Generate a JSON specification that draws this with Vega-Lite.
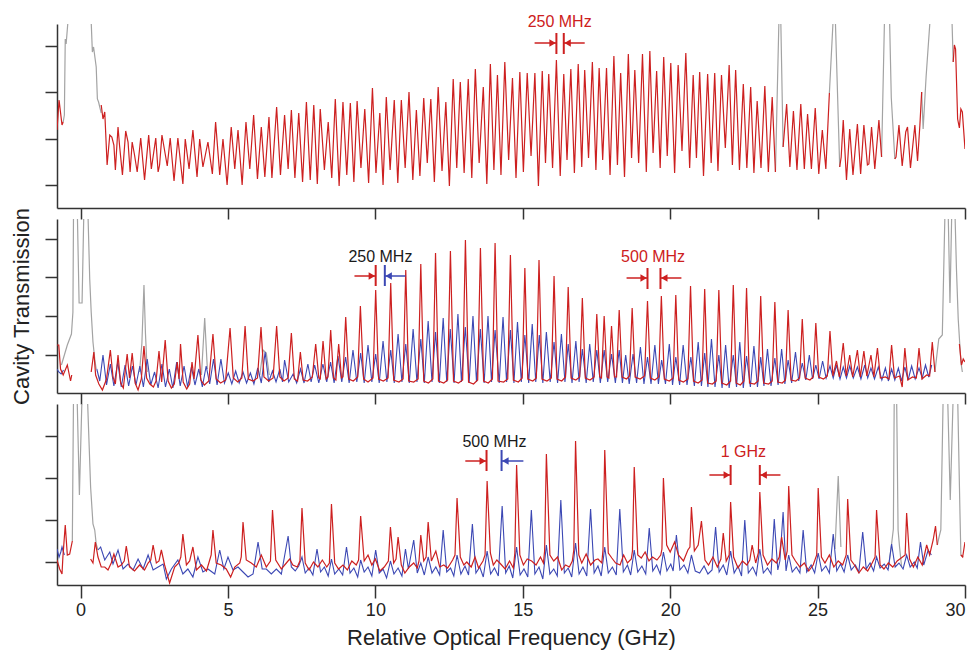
{
"$schema":"https://vega.github.io/schema/vega-lite/v6.json",
"padding":{"left":10,"top":13,"right":8,"bottom":5},
"spacing":11,
"bounds":"flush",
"config":{"view":{"stroke":null},"font":"Liberation Sans","axis":{"grid":false,"domainColor":"#333","tickColor":"#333","domainWidth":1.5,"tickWidth":1.5,"labelFont":"Liberation Sans","titleFont":"Liberation Sans","labelColor":"#222","titleColor":"#222","titleFontWeight":"normal"}},
"datasets":{
"tg":[{"x":-0.59,"y":86,"s":1},{"x":-0.55,"y":93,"s":1},{"x":-0.52,"y":169,"s":1},{"x":-0.49,"y":164,"s":1},{"x":-0.43,"y":186,"s":1},{"x":0.36,"y":186,"s":1},{"x":0.4,"y":156,"s":1},{"x":0.44,"y":161,"s":1},{"x":0.53,"y":141,"s":1},{"x":0.57,"y":109,"s":1},{"x":0.61,"y":106,"s":1},{"x":0.7,"y":95,"s":1},
{"x":23.57,"y":36,"s":2},{"x":23.69,"y":190,"s":2},{"x":23.75,"y":190,"s":2},{"x":23.83,"y":61,"s":2},
{"x":25.4,"y":115,"s":3},{"x":25.53,"y":190,"s":3},{"x":25.6,"y":190,"s":3},{"x":25.75,"y":41,"s":3},
{"x":27.17,"y":51,"s":4},{"x":27.27,"y":190,"s":4},{"x":27.44,"y":190,"s":4},{"x":27.5,"y":110,"s":4},{"x":27.62,"y":49,"s":4},
{"x":28.53,"y":116,"s":5},{"x":28.58,"y":79,"s":5},{"x":28.68,"y":131,"s":5},{"x":28.81,"y":186,"s":5},{"x":29.56,"y":186,"s":5},{"x":29.6,"y":146,"s":5}],
"tr":[{"x":-0.8,"y":78,"s":1},{"x":-0.73,"y":108,"s":1},{"x":-0.63,"y":83,"s":1},{"x":-0.59,"y":86,"s":1},
{"x":0.7,"y":103},{"x":0.76,"y":89},{"x":0.82,"y":96},{"x":0.9,"y":43},{"x":0.99,"y":73},{"x":1.06,"y":71},{"x":1.13,"y":63},{"x":1.18,"y":38},{"x":1.27,"y":81},{"x":1.32,"y":63},{"x":1.42,"y":33},{"x":1.53,"y":77},{"x":1.61,"y":66},{"x":1.68,"y":36},{"x":1.75,"y":66},{"x":1.83,"y":53},{"x":1.92,"y":36},{"x":2.04,"y":70},{"x":2.17,"y":28},{"x":2.31,"y":73},{"x":2.4,"y":39},{"x":2.55,"y":70},{"x":2.63,"y":36},{"x":2.68,"y":43},{"x":2.76,"y":73},{"x":2.94,"y":42},{"x":3.04,"y":70},{"x":3.17,"y":27},{"x":3.3,"y":70},{"x":3.47,"y":24},{"x":3.55,"y":69},{"x":3.68,"y":39},{"x":3.81,"y":78},{"x":3.95,"y":31},{"x":4.04,"y":69},{"x":4.15,"y":41},{"x":4.32,"y":66},{"x":4.47,"y":34},{"x":4.58,"y":86},{"x":4.72,"y":33},{"x":4.83,"y":69},{"x":4.97,"y":23},{"x":5.11,"y":81},{"x":5.23,"y":39},{"x":5.34,"y":78},{"x":5.48,"y":23},{"x":5.61,"y":86},{"x":5.74,"y":39},{"x":5.87,"y":93},{"x":6,"y":29},{"x":6.13,"y":81},{"x":6.25,"y":31},{"x":6.39,"y":91},{"x":6.49,"y":30},{"x":6.65,"y":101},{"x":6.78,"y":33},{"x":6.92,"y":93},{"x":7.04,"y":39},{"x":7.15,"y":98},{"x":7.27,"y":30},{"x":7.4,"y":95},{"x":7.53,"y":26},
{"x":7.66,"y":106},{"x":7.79,"y":28},{"x":7.91,"y":103},{"x":8.03,"y":24},{"x":8.13,"y":99},{"x":8.27,"y":38},{"x":8.4,"y":86},{"x":8.52,"y":30},{"x":8.64,"y":109},{"x":8.77,"y":22},{"x":8.9,"y":106},{"x":9.03,"y":33},{"x":9.15,"y":105},{"x":9.27,"y":26},{"x":9.38,"y":107},{"x":9.51,"y":40},{"x":9.64,"y":99},{"x":9.77,"y":25},{"x":9.9,"y":120},{"x":10.02,"y":35},{"x":10.15,"y":95},{"x":10.26,"y":23},{"x":10.37,"y":111},{"x":10.5,"y":38},{"x":10.64,"y":108},{"x":10.76,"y":25},{"x":10.88,"y":108},{"x":11.01,"y":40},{"x":11.14,"y":116},{"x":11.27,"y":28},{"x":11.39,"y":98},{"x":11.51,"y":32},{"x":11.64,"y":110},{"x":11.76,"y":45},{"x":11.88,"y":109},{"x":12,"y":26},{"x":12.13,"y":121},{"x":12.26,"y":37},{"x":12.39,"y":106},{"x":12.51,"y":22},{"x":12.64,"y":129},{"x":12.76,"y":40},{"x":12.88,"y":126},{"x":13.01,"y":35},{"x":13.15,"y":129},{"x":13.27,"y":30},{"x":13.39,"y":139},{"x":13.52,"y":45},{"x":13.66,"y":121},{"x":13.78,"y":24},{"x":13.9,"y":144},{"x":14.02,"y":38},{"x":14.14,"y":133},{"x":14.26,"y":33},{"x":14.39,"y":146},{"x":14.52,"y":48},{"x":14.65,"y":130},{"x":14.77,"y":30},{"x":14.9,"y":136},{"x":15.02,"y":36},{"x":15.15,"y":135},{"x":15.28,"y":52},{"x":15.41,"y":135},{"x":15.53,"y":22},{"x":15.66,"y":137},{"x":15.77,"y":45},{"x":15.88,"y":134},{"x":16.01,"y":40},{"x":16.14,"y":148},{"x":16.27,"y":32},{"x":16.39,"y":134},{"x":16.5,"y":48},{"x":16.63,"y":139},{"x":16.75,"y":35},{"x":16.88,"y":144},{"x":17,"y":41},{"x":17.1,"y":138},{"x":17.23,"y":50},{"x":17.36,"y":146},{"x":17.48,"y":38},{"x":17.59,"y":140},{"x":17.71,"y":48},{"x":17.84,"y":140},{"x":17.96,"y":33},{"x":18.09,"y":152},{"x":18.21,"y":43},{"x":18.32,"y":135},{"x":18.45,"y":31},{"x":18.58,"y":154},{"x":18.69,"y":50},{"x":18.8,"y":138},{"x":18.93,"y":45},{"x":19.06,"y":154},{"x":19.19,"y":36},{"x":19.31,"y":157},{"x":19.42,"y":55},{"x":19.54,"y":137},{"x":19.66,"y":40},{"x":19.78,"y":151},{"x":19.9,"y":52},{"x":20.02,"y":145},{"x":20.15,"y":35},{"x":20.27,"y":143},{"x":20.4,"y":57},{"x":20.53,"y":155},{"x":20.66,"y":40},{"x":20.78,"y":133},{"x":20.89,"y":50},{"x":21,"y":136},{"x":21.13,"y":32},{"x":21.27,"y":134},{"x":21.39,"y":45},{"x":21.51,"y":135},{"x":21.62,"y":37},{"x":21.74,"y":133},{"x":21.87,"y":60},{"x":22,"y":143},{"x":22.11,"y":43},{"x":22.22,"y":138},{"x":22.35,"y":38},{"x":22.48,"y":124},{"x":22.6,"y":40},{"x":22.73,"y":121},{"x":22.84,"y":35},{"x":22.95,"y":107},{"x":23.08,"y":40},{"x":23.21,"y":122},{"x":23.33,"y":36},{"x":23.46,"y":111},{"x":23.57,"y":36},
{"x":23.83,"y":61,"s":3},{"x":23.95,"y":104,"s":3},{"x":24.06,"y":41,"s":3},{"x":24.18,"y":97,"s":3},{"x":24.3,"y":38,"s":3},{"x":24.43,"y":104,"s":3},{"x":24.55,"y":39,"s":3},{"x":24.66,"y":94,"s":3},{"x":24.79,"y":39,"s":3},{"x":24.92,"y":100,"s":3},{"x":25.04,"y":34,"s":3},{"x":25.16,"y":78,"s":3},{"x":25.28,"y":39,"s":3},{"x":25.4,"y":115,"s":3},
{"x":25.75,"y":41,"s":4},{"x":25.8,"y":51,"s":4},{"x":25.87,"y":88,"s":4},{"x":25.98,"y":28,"s":4},{"x":26.09,"y":79,"s":4},{"x":26.2,"y":33,"s":4},{"x":26.35,"y":84,"s":4},{"x":26.46,"y":34,"s":4},{"x":26.57,"y":83,"s":4},{"x":26.69,"y":43,"s":4},{"x":26.74,"y":44,"s":4},{"x":26.83,"y":81,"s":4},{"x":26.94,"y":39,"s":4},{"x":27.08,"y":88,"s":4},{"x":27.17,"y":51,"s":4},
{"x":27.62,"y":49,"s":5},{"x":27.66,"y":51,"s":5},{"x":27.76,"y":83,"s":5},{"x":27.87,"y":42,"s":5},{"x":27.99,"y":76,"s":5},{"x":28.05,"y":81,"s":5},{"x":28.15,"y":40,"s":5},{"x":28.3,"y":83,"s":5},{"x":28.39,"y":47,"s":5},{"x":28.47,"y":83,"s":5},{"x":28.53,"y":116,"s":5},
{"x":29.6,"y":146,"s":6},{"x":29.64,"y":163,"s":6},{"x":29.68,"y":159,"s":6},{"x":29.75,"y":89,"s":6},{"x":29.81,"y":80,"s":6},{"x":29.86,"y":99,"s":6},{"x":29.91,"y":96,"s":6},{"x":30,"y":59,"s":6}],
"mg":[{"x":-0.65,"y":28,"s":1},{"x":-0.45,"y":48,"s":1},{"x":-0.31,"y":59,"s":1},{"x":-0.26,"y":81,"s":1},{"x":-0.24,"y":180,"s":1},{"x":-0.11,"y":180,"s":1},{"x":-0.05,"y":90,"s":1},{"x":0.05,"y":90,"s":1},{"x":0.11,"y":180,"s":1},{"x":0.25,"y":180,"s":1},{"x":0.31,"y":114,"s":1},{"x":0.36,"y":81,"s":1},{"x":0.42,"y":51,"s":1},{"x":0.48,"y":34,"s":1},{"x":0.53,"y":24,"s":1},
{"x":2,"y":21,"s":2},{"x":2.08,"y":50,"s":2},{"x":2.15,"y":108,"s":2},{"x":2.2,"y":60,"s":2},{"x":2.26,"y":21,"s":2},
{"x":4.1,"y":18,"s":3},{"x":4.21,"y":75,"s":3},{"x":4.3,"y":24,"s":3},
{"x":6.08,"y":18,"s":4},{"x":6.19,"y":43,"s":4},{"x":6.3,"y":40,"s":4},{"x":6.4,"y":18,"s":4},
{"x":28.98,"y":21,"s":5},{"x":29.11,"y":54,"s":5},{"x":29.23,"y":58,"s":5},{"x":29.32,"y":180,"s":5},{"x":29.43,"y":180,"s":5},{"x":29.49,"y":90,"s":5},{"x":29.55,"y":180,"s":5},{"x":29.66,"y":180,"s":5},{"x":29.71,"y":124,"s":5},{"x":29.77,"y":74,"s":5},{"x":29.86,"y":31,"s":5},{"x":29.91,"y":21,"s":5}],
"mr":[{"x":-0.8,"y":48,"s":1},{"x":-0.74,"y":48,"s":1},{"x":-0.68,"y":24,"s":1},{"x":-0.59,"y":18,"s":1},{"x":-0.45,"y":28,"s":1},{"x":-0.34,"y":12,"s":1},{"x":-0.3,"y":18,"s":1},
{"x":0.36,"y":21},{"x":0.45,"y":41},{"x":0.51,"y":18},{"x":0.62,"y":9},{"x":0.74,"y":3},{"x":0.88,"y":14},{"x":1.01,"y":43},{"x":1.1,"y":16},{"x":1.18,"y":9},{"x":1.27,"y":38},{"x":1.36,"y":10},{"x":1.45,"y":5},{"x":1.58,"y":39},{"x":1.66,"y":15},{"x":1.75,"y":40},{"x":1.85,"y":10},{"x":1.95,"y":3},{"x":2.06,"y":14},{"x":2.15,"y":47},{"x":2.24,"y":15},{"x":2.35,"y":9},{"x":2.47,"y":6},{"x":2.56,"y":12},{"x":2.66,"y":42},{"x":2.75,"y":11},{"x":2.87,"y":53},{"x":2.97,"y":12},{"x":3.08,"y":5},{"x":3.18,"y":9},{"x":3.28,"y":31},{"x":3.34,"y":14},{"x":3.39,"y":49},{"x":3.48,"y":11},{"x":3.6,"y":4},{"x":3.7,"y":9},{"x":3.78,"y":31},{"x":3.85,"y":14},{"x":3.98,"y":58},{"x":4.08,"y":13},{"x":4.2,"y":8},{"x":4.35,"y":12},{"x":4.49,"y":59},{"x":4.6,"y":14},{"x":4.75,"y":10},{"x":4.92,"y":13},{"x":5.07,"y":65},{"x":5.18,"y":15},{"x":5.33,"y":11},{"x":5.47,"y":15},{"x":5.58,"y":67},{"x":5.69,"y":14},{"x":5.85,"y":12},{"x":6,"y":15},{"x":6.12,"y":66},{"x":6.22,"y":16},{"x":6.38,"y":12},{"x":6.53,"y":15},{"x":6.65,"y":67},{"x":6.76,"y":16},{"x":6.9,"y":12},{"x":7.04,"y":15},{"x":7.15,"y":60},{"x":7.25,"y":14},{"x":7.36,"y":12},{"x":7.455,"y":41},{"x":7.55,"y":13},{"x":7.7,"y":12},{"x":7.86,"y":16},{"x":7.975,"y":49},{"x":8.08,"y":15},{"x":8.13,"y":14},{"x":8.224,"y":52},{"x":8.33,"y":14},{"x":8.39,"y":16},{"x":8.484,"y":63},{"x":8.58,"y":15},{"x":8.66,"y":13},{"x":8.755,"y":49},{"x":8.85,"y":15},{"x":8.9,"y":16},{"x":8.993,"y":76},{"x":9.1,"y":14},{"x":9.25,"y":12},{"x":9.4,"y":16},{"x":9.491,"y":87},{"x":9.6,"y":14},{"x":9.75,"y":11},{"x":9.92,"y":15},
{"x":10.01,"y":103},{"x":10.11,"y":14},{"x":10.27,"y":12},{"x":10.43,"y":15},{"x":10.52,"y":110},{"x":10.62,"y":13},{"x":10.8,"y":11},{"x":10.94,"y":14},{"x":11.03,"y":123},{"x":11.13,"y":12},{"x":11.3,"y":11},{"x":11.45,"y":14},{"x":11.54,"y":129},{"x":11.64,"y":12},{"x":11.8,"y":10},{"x":11.95,"y":14},{"x":12.04,"y":140},{"x":12.14,"y":12},{"x":12.32,"y":10},{"x":12.45,"y":13},{"x":12.545,"y":142},{"x":12.65,"y":12},{"x":12.82,"y":10},{"x":12.96,"y":13},{"x":13.054,"y":153},{"x":13.16,"y":11},{"x":13.33,"y":9},{"x":13.47,"y":13},{"x":13.563,"y":145},{"x":13.67,"y":12},{"x":13.83,"y":10},{"x":13.97,"y":14},{"x":14.06,"y":150},{"x":14.16,"y":12},{"x":14.35,"y":11},{"x":14.49,"y":14},{"x":14.58,"y":138},{"x":14.68,"y":13},{"x":14.85,"y":11},{"x":14.98,"y":15},{"x":15.07,"y":125},{"x":15.17,"y":14},{"x":15.34,"y":12},{"x":15.46,"y":15},{"x":15.55,"y":133},{"x":15.65,"y":14},{"x":15.82,"y":12},{"x":15.97,"y":15},{"x":16.06,"y":117},{"x":16.16,"y":14},{"x":16.32,"y":12},{"x":16.45,"y":16},{"x":16.54,"y":106},{"x":16.64,"y":15},{"x":16.8,"y":13},{"x":16.93,"y":16},{"x":17.02,"y":95},{"x":17.12,"y":15},{"x":17.28,"y":13},{"x":17.42,"y":16},{"x":17.51,"y":79},{"x":17.61,"y":16},{"x":17.67,"y":15},{"x":17.76,"y":77},{"x":17.86,"y":16},{"x":17.92,"y":15},{"x":18.01,"y":67},{"x":18.11,"y":16},{"x":18.18,"y":16},{"x":18.27,"y":83},{"x":18.37,"y":16},{"x":18.52,"y":14},{"x":18.62,"y":17},{"x":18.71,"y":85},{"x":18.81,"y":16},{"x":18.98,"y":14},{"x":19.13,"y":17},{"x":19.23,"y":92},{"x":19.33,"y":15},{"x":19.48,"y":13},{"x":19.61,"y":16},{"x":19.7,"y":97},{"x":19.8,"y":14},{"x":19.97,"y":12},{"x":20.1,"y":15},{"x":20.19,"y":98},{"x":20.29,"y":13},{"x":20.45,"y":11},{"x":20.6,"y":14},{"x":20.69,"y":107},{"x":20.79,"y":12},{"x":20.95,"y":10},{"x":21.08,"y":13},{"x":21.17,"y":104},{"x":21.27,"y":10},{"x":21.43,"y":9},{"x":21.56,"y":12},{"x":21.65,"y":103},{"x":21.75,"y":10},{"x":21.92,"y":8},{"x":22.05,"y":12},{"x":22.14,"y":108},{"x":22.24,"y":10},{"x":22.38,"y":8},{"x":22.5,"y":12},{"x":22.59,"y":105},{"x":22.69,"y":10},{"x":22.86,"y":9},{"x":22.98,"y":12},{"x":23.07,"y":97},{"x":23.17,"y":10},{"x":23.34,"y":9},{"x":23.46,"y":12},{"x":23.55,"y":91},{"x":23.65,"y":11},{"x":23.8,"y":10},{"x":23.91,"y":13},{"x":24,"y":83},{"x":24.1,"y":13},{"x":24.26,"y":12},{"x":24.39,"y":15},{"x":24.48,"y":74},{"x":24.58,"y":15},{"x":24.74,"y":13},{"x":24.85,"y":16},{"x":24.94,"y":70},{"x":25.04,"y":16},{"x":25.2,"y":14},{"x":25.33,"y":17},{"x":25.42,"y":62},{"x":25.52,"y":17},{"x":25.64,"y":32},{"x":25.74,"y":16},{"x":25.87,"y":50},{"x":25.97,"y":17},{"x":26.09,"y":38},{"x":26.19,"y":16},{"x":26.35,"y":43},{"x":26.45,"y":16},{"x":26.57,"y":42},{"x":26.67,"y":17},{"x":26.81,"y":38},{"x":26.91,"y":16},{"x":27.03,"y":45},{"x":27.13,"y":15},{"x":27.3,"y":16},{"x":27.42,"y":14},{"x":27.51,"y":48},{"x":27.61,"y":15},{"x":27.78,"y":17},{"x":27.87,"y":6},{"x":27.96,"y":45},{"x":28.06,"y":13},{"x":28.22,"y":16},{"x":28.35,"y":15},{"x":28.44,"y":45},{"x":28.54,"y":14},{"x":28.7,"y":18},{"x":28.8,"y":17},{"x":28.89,"y":51},{"x":28.98,"y":21},
{"x":29.81,"y":49,"s":3},{"x":29.88,"y":28,"s":3},{"x":29.94,"y":34,"s":3},{"x":30,"y":31,"s":3}],
"mb":[{"x":-0.8,"y":24,"s":1},{"x":-0.74,"y":21,"s":1},{"x":-0.66,"y":19,"s":1},{"x":-0.58,"y":23,"s":1},
{"x":0.55,"y":24},{"x":0.65,"y":12},{"x":0.76,"y":38},{"x":0.88,"y":8},{"x":1.01,"y":29},{"x":1.13,"y":7},{"x":1.26,"y":31},{"x":1.38,"y":6},{"x":1.51,"y":28},{"x":1.63,"y":7},{"x":1.76,"y":27},{"x":1.88,"y":8},{"x":2.01,"y":27},{"x":2.13,"y":6},{"x":2.26,"y":34},{"x":2.38,"y":8},{"x":2.51,"y":21},{"x":2.63,"y":5},{"x":2.76,"y":29},{"x":2.88,"y":6},{"x":3.01,"y":24},{"x":3.13,"y":5},{"x":3.26,"y":31},{"x":3.38,"y":7},{"x":3.51,"y":27},{"x":3.63,"y":6},{"x":3.76,"y":26},{"x":3.88,"y":8},{"x":4.01,"y":24},{"x":4.13,"y":6},{"x":4.26,"y":27},{"x":4.38,"y":9},{"x":4.51,"y":34},{"x":4.63,"y":8},{"x":4.76,"y":34},{"x":4.88,"y":10},{"x":5.01,"y":20},{"x":5.13,"y":9},{"x":5.26,"y":22},{"x":5.38,"y":10},{"x":5.51,"y":21},{"x":5.63,"y":10},{"x":5.76,"y":20},{"x":5.88,"y":9},{"x":6.01,"y":25},{"x":6.13,"y":10},{"x":6.26,"y":41},{"x":6.38,"y":11},{"x":6.51,"y":22},{"x":6.63,"y":11},{"x":6.76,"y":24},{"x":6.85,"y":11},
{"x":6.92,"y":33},{"x":7.06,"y":11},{"x":7.21,"y":19},{"x":7.33,"y":10},{"x":7.46,"y":24},{"x":7.58,"y":10},{"x":7.71,"y":29},{"x":7.82,"y":11},{"x":7.94,"y":28},{"x":8.08,"y":10},{"x":8.22,"y":29},{"x":8.35,"y":11},{"x":8.48,"y":31},{"x":8.6,"y":10},{"x":8.73,"y":37},{"x":8.86,"y":11},{"x":8.99,"y":36},{"x":9.11,"y":10},{"x":9.24,"y":43},{"x":9.37,"y":11},{"x":9.5,"y":40},{"x":9.62,"y":10},{"x":9.75,"y":48},{"x":9.88,"y":11},{"x":10.01,"y":39},{"x":10.13,"y":10},{"x":10.26,"y":52},{"x":10.39,"y":11},{"x":10.52,"y":43},{"x":10.64,"y":10},{"x":10.77,"y":59},{"x":10.9,"y":11},{"x":11.03,"y":49},{"x":11.15,"y":10},{"x":11.28,"y":64},{"x":11.41,"y":11},{"x":11.54,"y":54},{"x":11.66,"y":10},{"x":11.79,"y":72},{"x":11.92,"y":11},{"x":12.04,"y":61},{"x":12.17,"y":10},{"x":12.3,"y":75},{"x":12.42,"y":11},{"x":12.54,"y":64},{"x":12.67,"y":10},{"x":12.8,"y":79},{"x":12.92,"y":11},{"x":13.05,"y":66},{"x":13.18,"y":10},{"x":13.31,"y":77},{"x":13.43,"y":11},{"x":13.56,"y":64},{"x":13.69,"y":10},{"x":13.82,"y":77},{"x":13.94,"y":11},{"x":14.06,"y":63},{"x":14.2,"y":10},{"x":14.33,"y":76},{"x":14.45,"y":11},{"x":14.58,"y":63},{"x":14.7,"y":10},{"x":14.82,"y":71},{"x":14.95,"y":11},{"x":15.07,"y":58},{"x":15.2,"y":10},{"x":15.32,"y":69},{"x":15.44,"y":11},{"x":15.56,"y":58},{"x":15.68,"y":10},{"x":15.8,"y":61},{"x":15.93,"y":11},{"x":16.06,"y":51},{"x":16.18,"y":10},{"x":16.31,"y":59},{"x":16.43,"y":11},{"x":16.54,"y":49},{"x":16.67,"y":10},{"x":16.8,"y":52},{"x":16.91,"y":11},{"x":17.02,"y":44},{"x":17.15,"y":10},{"x":17.27,"y":49},{"x":17.39,"y":11},{"x":17.51,"y":43},{"x":17.63,"y":10},{"x":17.76,"y":43},{"x":17.88,"y":11},{"x":18.01,"y":39},{"x":18.14,"y":10},{"x":18.27,"y":43},{"x":18.38,"y":10},{"x":18.49,"y":38},{"x":18.61,"y":9},{"x":18.74,"y":39},{"x":18.86,"y":10},{"x":18.99,"y":46},{"x":19.11,"y":9},{"x":19.23,"y":36},{"x":19.35,"y":9},{"x":19.48,"y":48},{"x":19.6,"y":9},{"x":19.71,"y":33},{"x":19.84,"y":9},{"x":19.97,"y":49},{"x":20.08,"y":8},{"x":20.19,"y":36},{"x":20.32,"y":8},{"x":20.44,"y":48},{"x":20.57,"y":8},{"x":20.7,"y":36},{"x":20.82,"y":7},{"x":20.95,"y":51},{"x":21.06,"y":7},
{"x":21.17,"y":40},{"x":21.28,"y":6},{"x":21.4,"y":54},{"x":21.52,"y":6},{"x":21.65,"y":38},{"x":21.76,"y":5},{"x":21.88,"y":48},{"x":22,"y":5},{"x":22.14,"y":38},{"x":22.25,"y":6},{"x":22.36,"y":51},{"x":22.48,"y":5},{"x":22.59,"y":37},{"x":22.72,"y":6},{"x":22.84,"y":47},{"x":22.96,"y":6},{"x":23.07,"y":36},{"x":23.18,"y":7},{"x":23.3,"y":44},{"x":23.42,"y":7},{"x":23.55,"y":35},{"x":23.66,"y":8},{"x":23.78,"y":44},{"x":23.89,"y":9},{"x":24,"y":33},{"x":24.12,"y":10},{"x":24.25,"y":41},{"x":24.36,"y":12},{"x":24.48,"y":30},{"x":24.6,"y":13},{"x":24.72,"y":38},{"x":24.83,"y":14},{"x":24.94,"y":28},{"x":25.05,"y":14},{"x":25.17,"y":32},{"x":25.29,"y":15},{"x":25.42,"y":27},{"x":25.53,"y":15},{"x":25.64,"y":28},{"x":25.76,"y":14},{"x":25.87,"y":26},{"x":25.98,"y":15},{"x":26.09,"y":27},{"x":26.21,"y":15},{"x":26.35,"y":26},{"x":26.47,"y":14},{"x":26.6,"y":28},{"x":26.7,"y":15},{"x":26.81,"y":25},{"x":26.93,"y":14},{"x":27.06,"y":26},{"x":27.18,"y":13},{"x":27.3,"y":25},{"x":27.4,"y":12},{"x":27.51,"y":24},{"x":27.62,"y":13},{"x":27.74,"y":25},{"x":27.85,"y":12},{"x":27.96,"y":26},{"x":28.07,"y":13},{"x":28.19,"y":27},{"x":28.31,"y":14},{"x":28.44,"y":25},{"x":28.55,"y":15},{"x":28.66,"y":28},{"x":28.77,"y":16},{"x":28.87,"y":28}],
"bg":[{"x":-0.28,"y":44,"s":1},{"x":-0.24,"y":190,"s":1},{"x":-0.12,"y":190,"s":1},{"x":-0.04,"y":90,"s":1},{"x":0.05,"y":190,"s":1},{"x":0.23,"y":190,"s":1},{"x":0.34,"y":98,"s":1},{"x":0.42,"y":61,"s":1},{"x":0.48,"y":55,"s":1},{"x":0.53,"y":41,"s":1},{"x":0.59,"y":35,"s":1},
{"x":25.59,"y":36,"s":2},{"x":25.7,"y":109,"s":2},{"x":25.79,"y":38,"s":2},
{"x":27.4,"y":16,"s":3},{"x":27.51,"y":41,"s":3},{"x":27.57,"y":56,"s":3},{"x":27.6,"y":190,"s":3},{"x":27.68,"y":190,"s":3},{"x":27.73,"y":55,"s":3},{"x":27.78,"y":38,"s":3},{"x":27.85,"y":18,"s":3},
{"x":29.06,"y":40,"s":4},{"x":29.12,"y":48,"s":4},{"x":29.18,"y":55,"s":4},{"x":29.26,"y":190,"s":4},{"x":29.41,"y":190,"s":4},{"x":29.5,"y":85,"s":4},{"x":29.6,"y":190,"s":4},{"x":29.75,"y":190,"s":4},{"x":29.83,"y":71,"s":4},{"x":29.86,"y":30,"s":4},{"x":29.94,"y":28,"s":4}],
"br":[{"x":-0.8,"y":25,"s":1},{"x":-0.71,"y":16,"s":1},{"x":-0.63,"y":11,"s":1},{"x":-0.6,"y":28,"s":1},{"x":-0.52,"y":60,"s":1},{"x":-0.45,"y":30,"s":1},{"x":-0.37,"y":31,"s":1},{"x":-0.28,"y":44,"s":1},
{"x":0.34,"y":26},{"x":0.42,"y":22},{"x":0.5,"y":43},{"x":0.59,"y":28},{"x":0.7,"y":18},{"x":0.82,"y":18},{"x":0.93,"y":15},{"x":1.04,"y":22},{"x":1.13,"y":31},{"x":1.27,"y":18},{"x":1.38,"y":20},{"x":1.48,"y":24},{"x":1.55,"y":39},{"x":1.66,"y":18},{"x":1.83,"y":14},{"x":2,"y":20},{"x":2.17,"y":15},{"x":2.29,"y":22},{"x":2.38,"y":25},{"x":2.46,"y":40},{"x":2.57,"y":22},{"x":2.66,"y":24},{"x":2.74,"y":35},{"x":2.85,"y":20},{"x":3.02,"y":2},{"x":3.19,"y":18},{"x":3.33,"y":22},{"x":3.4,"y":28},{"x":3.47,"y":51},{"x":3.59,"y":20},{"x":3.7,"y":24},{"x":3.81,"y":38},{"x":3.93,"y":15},{"x":4.1,"y":20},{"x":4.27,"y":14},{"x":4.38,"y":25},{"x":4.43,"y":30},{"x":4.49,"y":55},{"x":4.6,"y":22},{"x":4.77,"y":20},{"x":4.94,"y":16},{"x":5.09,"y":8},{"x":5.23,"y":18},{"x":5.4,"y":22},{"x":5.45,"y":28},{"x":5.51,"y":63},{"x":5.62,"y":25},{"x":5.79,"y":22},{"x":5.96,"y":18},{"x":6.13,"y":30},{"x":6.3,"y":18},{"x":6.44,"y":24},{"x":6.51,"y":75},{"x":6.62,"y":25},{"x":6.81,"y":16},{"x":6.98,"y":22},{"x":7.09,"y":26},{"x":7.2,"y":20},{"x":7.35,"y":18},{"x":7.44,"y":24},{"x":7.51,"y":77},{"x":7.62,"y":22},{"x":7.75,"y":15},{"x":7.9,"y":23},{"x":8.05,"y":18},{"x":8.2,"y":25},{"x":8.35,"y":18},{"x":8.44,"y":22},{"x":8.51,"y":81},{"x":8.62,"y":22},{"x":8.75,"y":16},{"x":8.9,"y":20},{"x":9.05,"y":15},{"x":9.2,"y":24},{"x":9.35,"y":20},{"x":9.43,"y":25},{"x":9.5,"y":69},{"x":9.62,"y":24},{"x":9.75,"y":30},{"x":9.88,"y":20},{"x":10,"y":26},{"x":10.15,"y":14},{"x":10.3,"y":18},{"x":10.44,"y":24},{"x":10.51,"y":58},{"x":10.62,"y":22},{"x":10.7,"y":26},{"x":10.77,"y":48},{"x":10.88,"y":20},{"x":11,"y":12},{"x":11.15,"y":18},{"x":11.3,"y":22},{"x":11.42,"y":17},{"x":11.48,"y":24},{"x":11.54,"y":50},{"x":11.64,"y":24},{"x":11.72,"y":28},{"x":11.79,"y":63},{"x":11.9,"y":24},{"x":12.05,"y":34},{"x":12.18,"y":18},{"x":12.32,"y":20},{"x":12.45,"y":17},{"x":12.62,"y":25},{"x":12.7,"y":30},{"x":12.77,"y":87},{"x":12.88,"y":28},{"x":13,"y":20},{"x":13.1,"y":23},{"x":13.25,"y":18},{"x":13.38,"y":28},{"x":13.5,"y":17},{"x":13.65,"y":24},{"x":13.72,"y":30},{"x":13.79,"y":104},{"x":13.9,"y":32},{"x":14,"y":20},{"x":14.12,"y":25},{"x":14.25,"y":21},{"x":14.4,"y":16},{"x":14.55,"y":24},{"x":14.68,"y":17},{"x":14.73,"y":32},{"x":14.79,"y":120},{"x":14.9,"y":30},{"x":15.02,"y":20},{"x":15.15,"y":26},{"x":15.3,"y":24},{"x":15.45,"y":20},{"x":15.6,"y":28},{"x":15.7,"y":22},{"x":15.74,"y":34},{"x":15.8,"y":131},{"x":15.92,"y":30},{"x":16.05,"y":24},{"x":16.18,"y":28},{"x":16.32,"y":15},{"x":16.45,"y":20},{"x":16.58,"y":18},{"x":16.68,"y":24},{"x":16.73,"y":35},{"x":16.79,"y":144},{"x":16.9,"y":30},{"x":17,"y":22},{"x":17.15,"y":31},{"x":17.3,"y":20},{"x":17.45,"y":25},{"x":17.55,"y":26},{"x":17.68,"y":22},{"x":17.72,"y":35},{"x":17.78,"y":135},{"x":17.9,"y":32},{"x":18.02,"y":27},{"x":18.15,"y":22},{"x":18.3,"y":20},{"x":18.42,"y":30},{"x":18.55,"y":22},{"x":18.68,"y":26},{"x":18.72,"y":34},{"x":18.78,"y":118},{"x":18.9,"y":30},{"x":19.02,"y":27},{"x":19.15,"y":33},{"x":19.28,"y":24},{"x":19.4,"y":28},{"x":19.55,"y":25},{"x":19.68,"y":30},{"x":19.72,"y":36},{"x":19.77,"y":107},{"x":19.88,"y":40},{"x":20,"y":33},{"x":20.15,"y":43},{"x":20.28,"y":30},{"x":20.45,"y":24},{"x":20.6,"y":35},{"x":20.67,"y":38},{"x":20.72,"y":78},{"x":20.82,"y":34},{"x":20.95,"y":40},{"x":21.06,"y":64},{"x":21.18,"y":25},{"x":21.3,"y":20},{"x":21.45,"y":28},{"x":21.6,"y":18},{"x":21.72,"y":26},{"x":21.8,"y":52},{"x":21.9,"y":24},{"x":22,"y":30},{"x":22.05,"y":83},{"x":22.15,"y":28},{"x":22.3,"y":17},{"x":22.45,"y":24},{"x":22.6,"y":20},{"x":22.7,"y":25},{"x":22.78,"y":40},{"x":22.9,"y":22},{"x":22.99,"y":32},{"x":23.04,"y":93},{"x":23.15,"y":30},{"x":23.3,"y":20},{"x":23.45,"y":26},{"x":23.6,"y":22},{"x":23.7,"y":28},{"x":23.78,"y":48},{"x":23.9,"y":25},{"x":23.97,"y":34},{"x":24.02,"y":99},{"x":24.13,"y":30},{"x":24.25,"y":24},{"x":24.4,"y":18},{"x":24.55,"y":22},{"x":24.7,"y":14},{"x":24.85,"y":20},{"x":24.97,"y":30},{"x":25.02,"y":97},{"x":25.13,"y":28},{"x":25.25,"y":22},{"x":25.4,"y":30},{"x":25.55,"y":18},{"x":25.7,"y":24},{"x":25.85,"y":20},{"x":25.97,"y":30},{"x":26.02,"y":86},{"x":26.13,"y":25},{"x":26.25,"y":20},{"x":26.4,"y":12},{"x":26.55,"y":18},{"x":26.7,"y":14},{"x":26.85,"y":22},{"x":26.95,"y":28},{"x":27,"y":75},{"x":27.12,"y":20},{"x":27.25,"y":16},{"x":27.4,"y":22},{"x":27.55,"y":18},{"x":27.7,"y":24},{"x":27.88,"y":28},{"x":27.97,"y":30},{"x":28.02,"y":72},{"x":28.12,"y":26},{"x":28.25,"y":18},{"x":28.4,"y":28},{"x":28.55,"y":20},{"x":28.7,"y":40},{"x":28.8,"y":30},{"x":28.92,"y":45},{"x":29,"y":59},{"x":29.06,"y":40},
{"x":29.86,"y":30,"s":3},{"x":29.92,"y":28,"s":3},{"x":30,"y":43,"s":3}],
"bb":[{"x":-0.8,"y":36,"s":1},{"x":-0.73,"y":28,"s":1},{"x":-0.67,"y":33,"s":1},{"x":-0.63,"y":38,"s":1},{"x":-0.55,"y":30,"s":1},
{"x":0.59,"y":35},{"x":0.68,"y":38},{"x":0.82,"y":25},{"x":0.99,"y":33},{"x":1.1,"y":21},{"x":1.27,"y":35},{"x":1.44,"y":16},{"x":1.61,"y":21},{"x":1.78,"y":15},{"x":1.95,"y":26},{"x":2.12,"y":16},{"x":2.29,"y":30},{"x":2.46,"y":15},{"x":2.63,"y":18},{"x":2.8,"y":21},{"x":2.91,"y":6},{"x":3.08,"y":16},{"x":3.3,"y":25},{"x":3.47,"y":11},{"x":3.64,"y":16},{"x":3.81,"y":8},{"x":3.98,"y":28},{"x":4.15,"y":13},{"x":4.32,"y":16},{"x":4.55,"y":11},{"x":4.72,"y":35},{"x":4.86,"y":16},{"x":5,"y":28},{"x":5.17,"y":15},{"x":5.34,"y":18},{"x":5.51,"y":13},{"x":5.68,"y":8},{"x":5.85,"y":11},{"x":6.02,"y":43},{"x":6.16,"y":16},{"x":6.3,"y":16},{"x":6.47,"y":11},{"x":6.64,"y":16},{"x":6.81,"y":11},{"x":7.04,"y":49},{"x":7.15,"y":18},
{"x":7.28,"y":14},{"x":7.4,"y":19},{"x":7.51,"y":28},{"x":7.62,"y":12},{"x":7.75,"y":17},{"x":7.88,"y":10},{"x":8.02,"y":36},{"x":8.14,"y":13},{"x":8.27,"y":18},{"x":8.4,"y":9},{"x":8.51,"y":26},{"x":8.62,"y":11},{"x":8.76,"y":16},{"x":8.89,"y":10},{"x":9.02,"y":38},{"x":9.14,"y":12},{"x":9.27,"y":17},{"x":9.4,"y":8},{"x":9.5,"y":25},{"x":9.62,"y":13},{"x":9.75,"y":18},{"x":9.88,"y":9},{"x":10.01,"y":35},{"x":10.13,"y":12},{"x":10.26,"y":16},{"x":10.38,"y":7},{"x":10.51,"y":24},{"x":10.63,"y":11},{"x":10.77,"y":17},{"x":10.9,"y":9},{"x":11.02,"y":36},{"x":11.12,"y":16},{"x":11.3,"y":45},{"x":11.42,"y":12},{"x":11.54,"y":22},{"x":11.66,"y":10},{"x":11.79,"y":28},{"x":11.92,"y":12},{"x":12.05,"y":18},{"x":12.18,"y":10},{"x":12.3,"y":55},{"x":12.42,"y":13},{"x":12.55,"y":17},{"x":12.66,"y":9},{"x":12.77,"y":30},{"x":12.9,"y":11},{"x":13.04,"y":19},{"x":13.16,"y":10},{"x":13.29,"y":61},{"x":13.41,"y":12},{"x":13.54,"y":18},{"x":13.66,"y":8},{"x":13.79,"y":34},{"x":13.91,"y":11},{"x":14.04,"y":17},{"x":14.17,"y":9},{"x":14.3,"y":79},{"x":14.42,"y":12},{"x":14.54,"y":19},{"x":14.66,"y":7},{"x":14.79,"y":38},{"x":14.91,"y":10},{"x":15.04,"y":16},{"x":15.17,"y":8},{"x":15.29,"y":75},{"x":15.41,"y":11},{"x":15.55,"y":18},{"x":15.68,"y":6},{"x":15.8,"y":40},{"x":15.92,"y":11},{"x":16.05,"y":16},{"x":16.17,"y":9},{"x":16.29,"y":85},{"x":16.41,"y":12},{"x":16.54,"y":17},{"x":16.66,"y":8},{"x":16.79,"y":42},{"x":16.91,"y":11},{"x":17.04,"y":18},{"x":17.17,"y":9},{"x":17.3,"y":76},{"x":17.42,"y":12},{"x":17.55,"y":19},{"x":17.66,"y":9},{"x":17.78,"y":38},{"x":17.9,"y":12},{"x":18.04,"y":18},{"x":18.17,"y":10},{"x":18.29,"y":76},{"x":18.41,"y":13},{"x":18.55,"y":20},{"x":18.66,"y":10},{"x":18.78,"y":35},{"x":18.9,"y":13},{"x":19.04,"y":19},{"x":19.17,"y":11},{"x":19.29,"y":57},{"x":19.41,"y":14},{"x":19.54,"y":20},{"x":19.66,"y":11},{"x":19.77,"y":33},{"x":19.89,"y":14},{"x":20.02,"y":21},{"x":20.1,"y":14},{"x":20.21,"y":50},{"x":20.33,"y":15},{"x":20.47,"y":20},{"x":20.6,"y":12},{"x":20.72,"y":30},{"x":20.85,"y":14},{"x":21,"y":12},{"x":21.15,"y":19},{"x":21.28,"y":11},{"x":21.42,"y":15},{"x":21.54,"y":58},{"x":21.66,"y":13},{"x":21.8,"y":20},{"x":21.92,"y":10},{"x":22.05,"y":34},{"x":22.17,"y":12},{"x":22.3,"y":19},{"x":22.42,"y":9},{"x":22.53,"y":65},{"x":22.65,"y":12},{"x":22.8,"y":18},{"x":22.92,"y":10},{"x":23.04,"y":36},{"x":23.16,"y":12},{"x":23.3,"y":17},{"x":23.42,"y":11},{"x":23.53,"y":66},{"x":23.65,"y":15},{"x":23.72,"y":24},{"x":23.83,"y":73},{"x":23.93,"y":14},{"x":24.02,"y":30},{"x":24.14,"y":13},{"x":24.28,"y":18},{"x":24.4,"y":12},{"x":24.51,"y":55},{"x":24.63,"y":13},{"x":24.78,"y":20},{"x":24.9,"y":12},{"x":25.02,"y":32},{"x":25.14,"y":14},{"x":25.28,"y":19},{"x":25.4,"y":12},{"x":25.53,"y":51},{"x":25.65,"y":14},{"x":25.78,"y":21},{"x":25.9,"y":13},{"x":26.02,"y":30},{"x":26.14,"y":15},{"x":26.28,"y":20},{"x":26.4,"y":13},{"x":26.53,"y":53},{"x":26.65,"y":16},{"x":26.78,"y":22},{"x":26.9,"y":14},{"x":27,"y":28},{"x":27.12,"y":17},{"x":27.26,"y":21},{"x":27.39,"y":15},{"x":27.51,"y":41},{"x":27.63,"y":18},{"x":27.76,"y":22},{"x":27.9,"y":16},{"x":28.02,"y":30},{"x":28.14,"y":18},{"x":28.28,"y":23},{"x":28.38,"y":17},{"x":28.49,"y":43},{"x":28.6,"y":20},{"x":28.75,"y":35},{"x":28.86,"y":30}],
"vl":[{"p":"t","k":"r","x":16.14,"y":154,"y2":175},{"p":"t","k":"r","x":16.39,"y":154,"y2":175},{"p":"m","k":"r","x":10.01,"y":107,"y2":128},{"p":"m","k":"b","x":10.32,"y":107,"y2":128},{"p":"m","k":"r","x":19.23,"y":104,"y2":125},{"p":"m","k":"r","x":19.67,"y":104,"y2":125},{"p":"b","k":"r","x":13.77,"y":114,"y2":135},{"p":"b","k":"b","x":14.28,"y":114,"y2":135},{"p":"b","k":"r","x":22.05,"y":100,"y2":120},{"p":"b","k":"r","x":23.04,"y":100,"y2":120}],
"hl":[{"p":"t","k":"r","x":15.4,"x2":16.14,"y":165},{"p":"t","k":"r","x":16.39,"x2":17.1,"y":165},{"p":"m","k":"r","x":9.29,"x2":10.01,"y":117},{"p":"m","k":"b","x":10.32,"x2":11.02,"y":117},{"p":"m","k":"r","x":18.52,"x2":19.23,"y":115},{"p":"m","k":"r","x":19.67,"x2":20.38,"y":115},{"p":"b","k":"r","x":13.05,"x2":13.77,"y":124},{"p":"b","k":"b","x":14.28,"x2":15.02,"y":124},{"p":"b","k":"r","x":21.33,"x2":22.05,"y":110},{"p":"b","k":"r","x":23.04,"x2":23.74,"y":110}],
"tri":[{"p":"t","k":"r","x":16.01,"y":165,"d":"R"},{"p":"t","k":"r","x":16.52,"y":165,"d":"L"},{"p":"m","k":"r","x":9.88,"y":117,"d":"R"},{"p":"m","k":"b","x":10.45,"y":117,"d":"L"},{"p":"m","k":"r","x":19.1,"y":115,"d":"R"},{"p":"m","k":"r","x":19.8,"y":115,"d":"L"},{"p":"b","k":"r","x":13.64,"y":124,"d":"R"},{"p":"b","k":"b","x":14.41,"y":124,"d":"L"},{"p":"b","k":"r","x":21.92,"y":110,"d":"R"},{"p":"b","k":"r","x":23.17,"y":110,"d":"L"}],
"lab":[{"p":"t","k":"r","x":16.25,"y":186,"t":"250 MHz"},{"p":"m","k":"k","x":10.17,"y":136,"t":"250 MHz"},{"p":"m","k":"r","x":19.42,"y":136,"t":"500 MHz"},{"p":"b","k":"k","x":14.04,"y":143,"t":"500 MHz"},{"p":"b","k":"r","x":22.48,"y":133,"t":"1 GHz"}]
},
"vconcat":[
{"width":908,"height":184,
"encoding":{"x":{"field":"x","type":"quantitative","scale":{"domain":[-0.8,30],"nice":false,"zero":false},"axis":{"values":[0,5,10,15,20,25,30],"labels":false,"tickSize":11,"title":null}},
"y":{"field":"y","type":"quantitative","scale":{"domain":[0,184],"nice":false,"zero":false},"axis":{"values":[23,69,116,162],"labels":false,"tickSize":12,"title":null}}},
"layer":[
{"data":{"name":"tg"},"mark":{"type":"line","clip":true,"color":"#a3a3a3","strokeWidth":1.2},"encoding":{"detail":{"field":"s","type":"nominal"}}},
{"data":{"name":"tr"},"mark":{"type":"line","clip":true,"color":"#cd2020","strokeWidth":1.2},"encoding":{"detail":{"field":"s","type":"nominal"}}},
{"data":{"name":"vl"},"transform":[{"filter":"datum.p=='t'"}],"mark":{"type":"rule","strokeWidth":2},"encoding":{"y2":{"field":"y2"},"color":{"field":"k","type":"nominal","scale":{"domain":["r","b","k"],"range":["#cd2020","#3c48b4","#1a1a1a"]},"legend":null}}},
{"data":{"name":"hl"},"transform":[{"filter":"datum.p=='t'"}],"mark":{"type":"rule","strokeWidth":1.5},"encoding":{"x2":{"field":"x2"},"color":{"field":"k","type":"nominal","scale":{"domain":["r","b","k"],"range":["#cd2020","#3c48b4","#1a1a1a"]},"legend":null}}},
{"data":{"name":"tri"},"transform":[{"filter":"datum.p=='t'"}],"mark":{"type":"point","filled":true,"opacity":1,"size":55},"encoding":{"shape":{"field":"d","type":"nominal","scale":{"domain":["R","L"],"range":["triangle-right","triangle-left"]},"legend":null},"color":{"field":"k","type":"nominal","scale":{"domain":["r","b","k"],"range":["#cd2020","#3c48b4","#1a1a1a"]},"legend":null}}},
{"data":{"name":"lab"},"transform":[{"filter":"datum.p=='t'"}],"mark":{"type":"text","fontSize":16,"font":"Liberation Sans"},"encoding":{"text":{"field":"t"},"color":{"field":"k","type":"nominal","scale":{"domain":["r","b","k"],"range":["#cd2020","#3c48b4","#1a1a1a"]},"legend":null}}}
]},
{"width":908,"height":174,
"encoding":{"x":{"field":"x","type":"quantitative","scale":{"domain":[-0.8,30],"nice":false,"zero":false},"axis":{"values":[0,5,10,15,20,25,30],"labels":false,"tickSize":11,"title":null}},
"y":{"field":"y","type":"quantitative","scale":{"domain":[0,174],"nice":false,"zero":false},"axis":{"values":[38,77,116,154],"labels":false,"tickSize":12,"title":"Cavity Transmission","titleFontSize":22,"titlePadding":11}}},
"layer":[
{"data":{"name":"mg"},"mark":{"type":"line","clip":true,"color":"#a3a3a3","strokeWidth":1.2},"encoding":{"detail":{"field":"s","type":"nominal"}}},
{"data":{"name":"mb"},"mark":{"type":"line","clip":true,"color":"#3c48b4","strokeWidth":1.1},"encoding":{"detail":{"field":"s","type":"nominal"}}},
{"data":{"name":"mr"},"mark":{"type":"line","clip":true,"color":"#cd2020","strokeWidth":1.2},"encoding":{"detail":{"field":"s","type":"nominal"}}},
{"data":{"name":"vl"},"transform":[{"filter":"datum.p=='m'"}],"mark":{"type":"rule","strokeWidth":2},"encoding":{"y2":{"field":"y2"},"color":{"field":"k","type":"nominal","scale":{"domain":["r","b","k"],"range":["#cd2020","#3c48b4","#1a1a1a"]},"legend":null}}},
{"data":{"name":"hl"},"transform":[{"filter":"datum.p=='m'"}],"mark":{"type":"rule","strokeWidth":1.5},"encoding":{"x2":{"field":"x2"},"color":{"field":"k","type":"nominal","scale":{"domain":["r","b","k"],"range":["#cd2020","#3c48b4","#1a1a1a"]},"legend":null}}},
{"data":{"name":"tri"},"transform":[{"filter":"datum.p=='m'"}],"mark":{"type":"point","filled":true,"opacity":1,"size":55},"encoding":{"shape":{"field":"d","type":"nominal","scale":{"domain":["R","L"],"range":["triangle-right","triangle-left"]},"legend":null},"color":{"field":"k","type":"nominal","scale":{"domain":["r","b","k"],"range":["#cd2020","#3c48b4","#1a1a1a"]},"legend":null}}},
{"data":{"name":"lab"},"transform":[{"filter":"datum.p=='m'"}],"mark":{"type":"text","fontSize":16,"font":"Liberation Sans"},"encoding":{"text":{"field":"t"},"color":{"field":"k","type":"nominal","scale":{"domain":["r","b","k"],"range":["#cd2020","#3c48b4","#1a1a1a"]},"legend":null}}}
]},
{"width":908,"height":181,
"encoding":{"x":{"field":"x","type":"quantitative","scale":{"domain":[-0.8,30],"nice":false,"zero":false},"axis":{"values":[0,5,10,15,20,25,30],"labels":true,"tickSize":13,"labelFontSize":18,"labelPadding":3,"title":"Relative Optical Frequency (GHz)","titleFontSize":22,"titlePadding":8}},
"y":{"field":"y","type":"quantitative","scale":{"domain":[0,181],"nice":false,"zero":false},"axis":{"values":[23,65,107,149],"labels":false,"tickSize":12,"title":null}}},
"layer":[
{"data":{"name":"bg"},"mark":{"type":"line","clip":true,"color":"#a3a3a3","strokeWidth":1.2},"encoding":{"detail":{"field":"s","type":"nominal"}}},
{"data":{"name":"bb"},"mark":{"type":"line","clip":true,"color":"#3c48b4","strokeWidth":1.1},"encoding":{"detail":{"field":"s","type":"nominal"}}},
{"data":{"name":"br"},"mark":{"type":"line","clip":true,"color":"#cd2020","strokeWidth":1.2},"encoding":{"detail":{"field":"s","type":"nominal"}}},
{"data":{"name":"vl"},"transform":[{"filter":"datum.p=='b'"}],"mark":{"type":"rule","strokeWidth":2},"encoding":{"y2":{"field":"y2"},"color":{"field":"k","type":"nominal","scale":{"domain":["r","b","k"],"range":["#cd2020","#3c48b4","#1a1a1a"]},"legend":null}}},
{"data":{"name":"hl"},"transform":[{"filter":"datum.p=='b'"}],"mark":{"type":"rule","strokeWidth":1.5},"encoding":{"x2":{"field":"x2"},"color":{"field":"k","type":"nominal","scale":{"domain":["r","b","k"],"range":["#cd2020","#3c48b4","#1a1a1a"]},"legend":null}}},
{"data":{"name":"tri"},"transform":[{"filter":"datum.p=='b'"}],"mark":{"type":"point","filled":true,"opacity":1,"size":55},"encoding":{"shape":{"field":"d","type":"nominal","scale":{"domain":["R","L"],"range":["triangle-right","triangle-left"]},"legend":null},"color":{"field":"k","type":"nominal","scale":{"domain":["r","b","k"],"range":["#cd2020","#3c48b4","#1a1a1a"]},"legend":null}}},
{"data":{"name":"lab"},"transform":[{"filter":"datum.p=='b'"}],"mark":{"type":"text","fontSize":16,"font":"Liberation Sans"},"encoding":{"text":{"field":"t"},"color":{"field":"k","type":"nominal","scale":{"domain":["r","b","k"],"range":["#cd2020","#3c48b4","#1a1a1a"]},"legend":null}}}
]}
]
}
